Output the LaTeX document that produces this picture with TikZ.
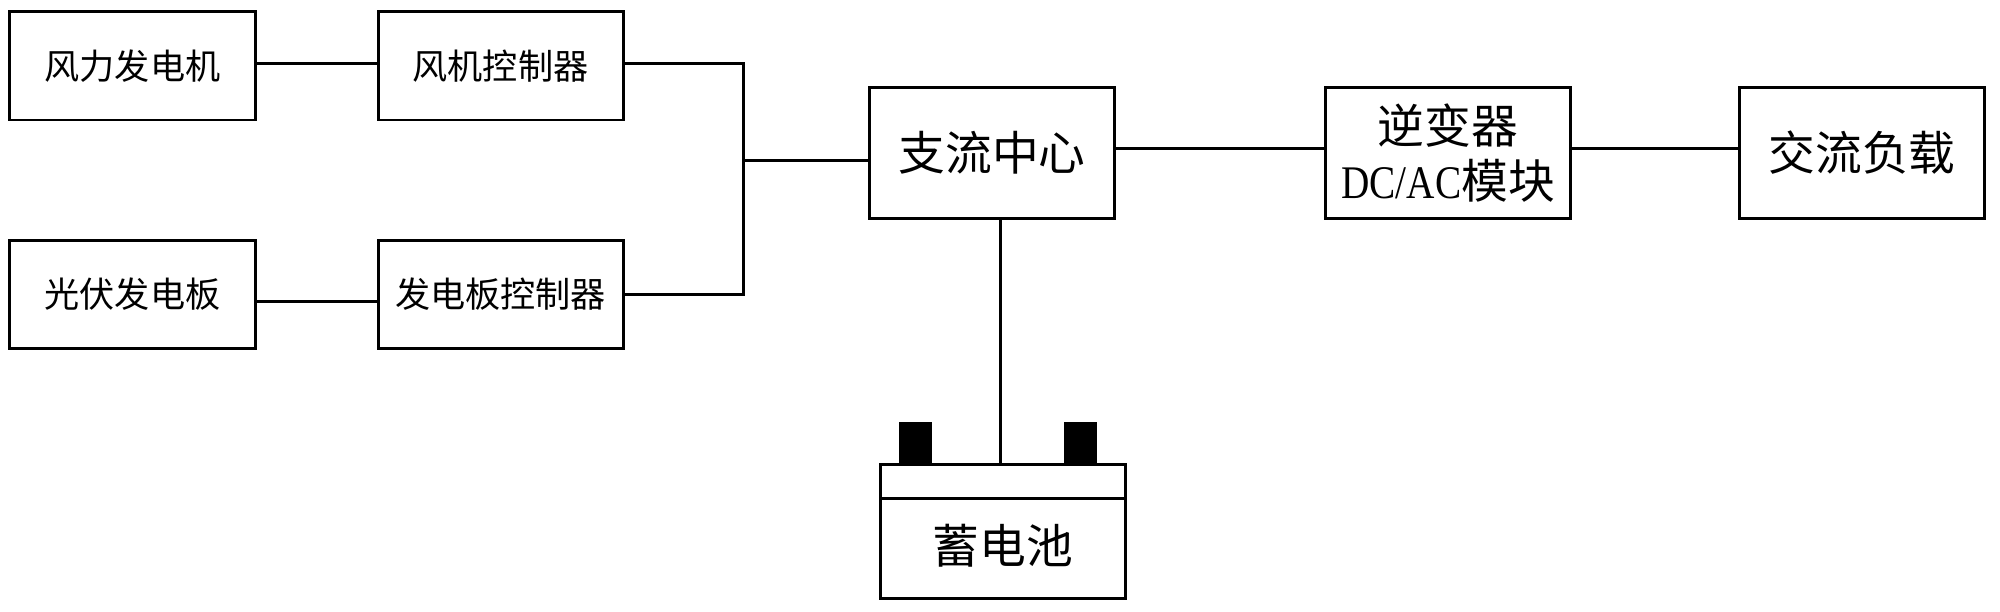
\documentclass[tikz,border=0pt]{standalone}
\usepackage{fontspec}
\setmainfont{Noto Sans CJK SC}
\newfontfamily\latinserif{Liberation Serif}
\usetikzlibrary{positioning}

\tikzset{
  box/.style={draw,line width=0.06cm,outer sep=0,inner sep=0,minimum width=4.9cm,align=center},
  smallbox/.style={box,minimum height=2.16cm,font=\fontsize{20}{24}\selectfont},
  bigbox/.style={box,minimum height=2.6cm,font=\fontsize{26.6}{31.2}\selectfont},
  terminal/.style={fill=black,outer sep=0,inner sep=0,minimum width=0.66cm,minimum height=0.84cm},
  wire/.style={line width=0.06cm}
}

\begin{document}
\begin{tikzpicture}
        \useasboundingbox (0,0) rectangle (40,-12.24);
        \node[smallbox] (wind) at (2.65,-1.32) {风力发电机};
        \node[smallbox,right=2.46cm of wind] (windctl) {风机控制器};
        \node[smallbox,below=2.4cm of wind] (pv) {光伏发电板};
        \node[smallbox,right=2.46cm of pv] (pvctl) {发电板控制器};
        \node[bigbox,below right=1.52cm and 4.93cm of windctl.north east] (dc) {支流中心};
        \node[bigbox,right=4.22cm of dc] (inv) {逆变器\\{\latinserif\scalebox{0.84}[1]{DC/AC}}模块};
        \node[bigbox,right=3.38cm of inv] (load) {交流负载};
        \node[box,minimum height=0.68cm,below=4.92cm of dc,xshift=0.22cm] (batcap) {};
        \node[bigbox,minimum height=2cm,below=0cm of batcap] (bat) {\raisebox{0.15cm}{蓄电池}};
        \node[terminal,above right=0cm and 0.36cm of batcap.north west] (termL) {};
        \node[terminal,above right=0cm and 3.66cm of batcap.north west] (termR) {};
        \coordinate[left=2.52cm of dc.west,yshift=-0.14cm] (bus);
        \coordinate[xshift=-0.05cm] (feed) at (batcap.north);
        \draw[wire] ([yshift=0.04cm]wind.east)--([yshift=0.04cm]windctl.west);
        \draw[wire] ([yshift=-0.14cm]pv.east)--([yshift=-0.14cm]pvctl.west);
        \draw[wire] ([yshift=0.04cm]windctl.east)-|(bus);\draw[wire] (pvctl.east)-|(bus);
        \draw[wire] (bus)--(bus-|dc.west);
        \draw[wire] ([yshift=0.1cm]dc.east)--([yshift=0.1cm]inv.west);
        \draw[wire] ([yshift=0.1cm]inv.east)--([yshift=0.1cm]load.west);
        \draw[wire] (feed|-dc.south)--(feed);
      \end{tikzpicture}
\end{document}
